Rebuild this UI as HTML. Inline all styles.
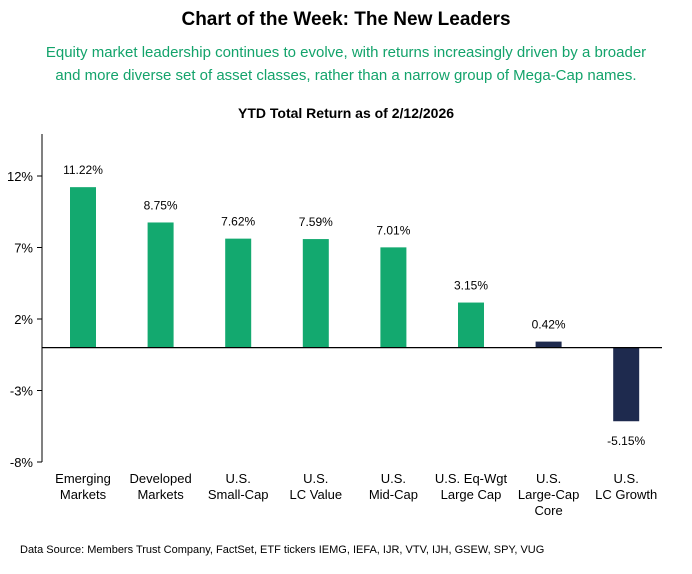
<!DOCTYPE html>
<html><head><meta charset="utf-8"><style>
body{margin:0;width:692px;height:569px;background:#fff;font-family:"Liberation Sans",Arial,sans-serif;overflow:hidden}
svg text{font-family:"Liberation Sans",Arial,sans-serif}
</style></head><body>
<svg width="692" height="569">
<text x="346" y="25" text-anchor="middle" font-size="19" font-weight="bold" fill="#000">Chart of the Week: The New Leaders</text>
<text x="346" y="57" text-anchor="middle" font-size="15" fill="#13a36b">Equity market leadership continues to evolve, with returns increasingly driven by a broader</text>
<text x="346" y="80" text-anchor="middle" font-size="15" fill="#13a36b">and more diverse set of asset classes, rather than a narrow group of Mega-Cap names.</text>
<text x="346" y="118" text-anchor="middle" font-size="14" font-weight="bold" fill="#000">YTD Total Return as of 2/12/2026</text>
<g id="plot"></g>
<text x="20" y="553" font-size="11" fill="#000">Data Source: Members Trust Company, FactSet, ETF tickers IEMG, IEFA, IJR, VTV, IJH, GSEW, SPY, VUG</text>
</svg>
<script>
const categories=[["Emerging","Markets"],["Developed","Markets"],["U.S.","Small-Cap"],["U.S.","LC Value"],["U.S.","Mid-Cap"],["U.S. Eq-Wgt","Large Cap"],["U.S.","Large-Cap","Core"],["U.S.","LC Growth"]];
const values=[11.22,8.75,7.62,7.59,7.01,3.15,0.42,-5.15];
const colorsIdx=[0,0,0,0,0,0,1,1];
const ticks=[12,7,2,-3,-8];
const NS="http://www.w3.org/2000/svg";
const g=document.getElementById('plot');
const y=v=>347.6-v*14.3;
const x=i=>83+i*77.6;
function el(t,a){const e=document.createElementNS(NS,t);for(const k in a)e.setAttribute(k,a[k]);g.appendChild(e);return e;}
const ax=el('line',{x1:42,x2:42,y1:134,y2:462,stroke:'#000','stroke-width':1});


ticks.forEach(t=>{
 const tk=el('line',{x1:37,x2:42,y1:y(t),y2:y(t),stroke:'#000'});
 
 
 const tx=el('text',{x:33,y:y(t)+5,'text-anchor':'end','font-size':13,fill:'#000'});
 tx.textContent=t+'%';
 
 
});
values.forEach((v,i)=>{
 const top=Math.min(y(v),y(0)),h=Math.abs(y(v)-y(0));
 const r=el('rect',{x:x(i)-13,y:top,width:26,height:h,fill:colorsIdx[i]?'#1e2a4e':'#13a96f'});
 
 
 const lt=el('text',{x:x(i),y:v>=0?y(v)-13:y(v)+24,'text-anchor':'middle','font-size':12,fill:'#000'});
 lt.textContent=v.toFixed(2)+'%';
 
 
 categories[i].forEach((s,j)=>{
  const c=el('text',{x:x(i),y:483+j*16,'text-anchor':'middle','font-size':13,fill:'#000'});
  c.textContent=s;
  
  
 });
});
const zl=el('line',{x1:42,x2:662,y1:y(0),y2:y(0),stroke:'#000','stroke-width':1.2});


</script>
</body></html>
